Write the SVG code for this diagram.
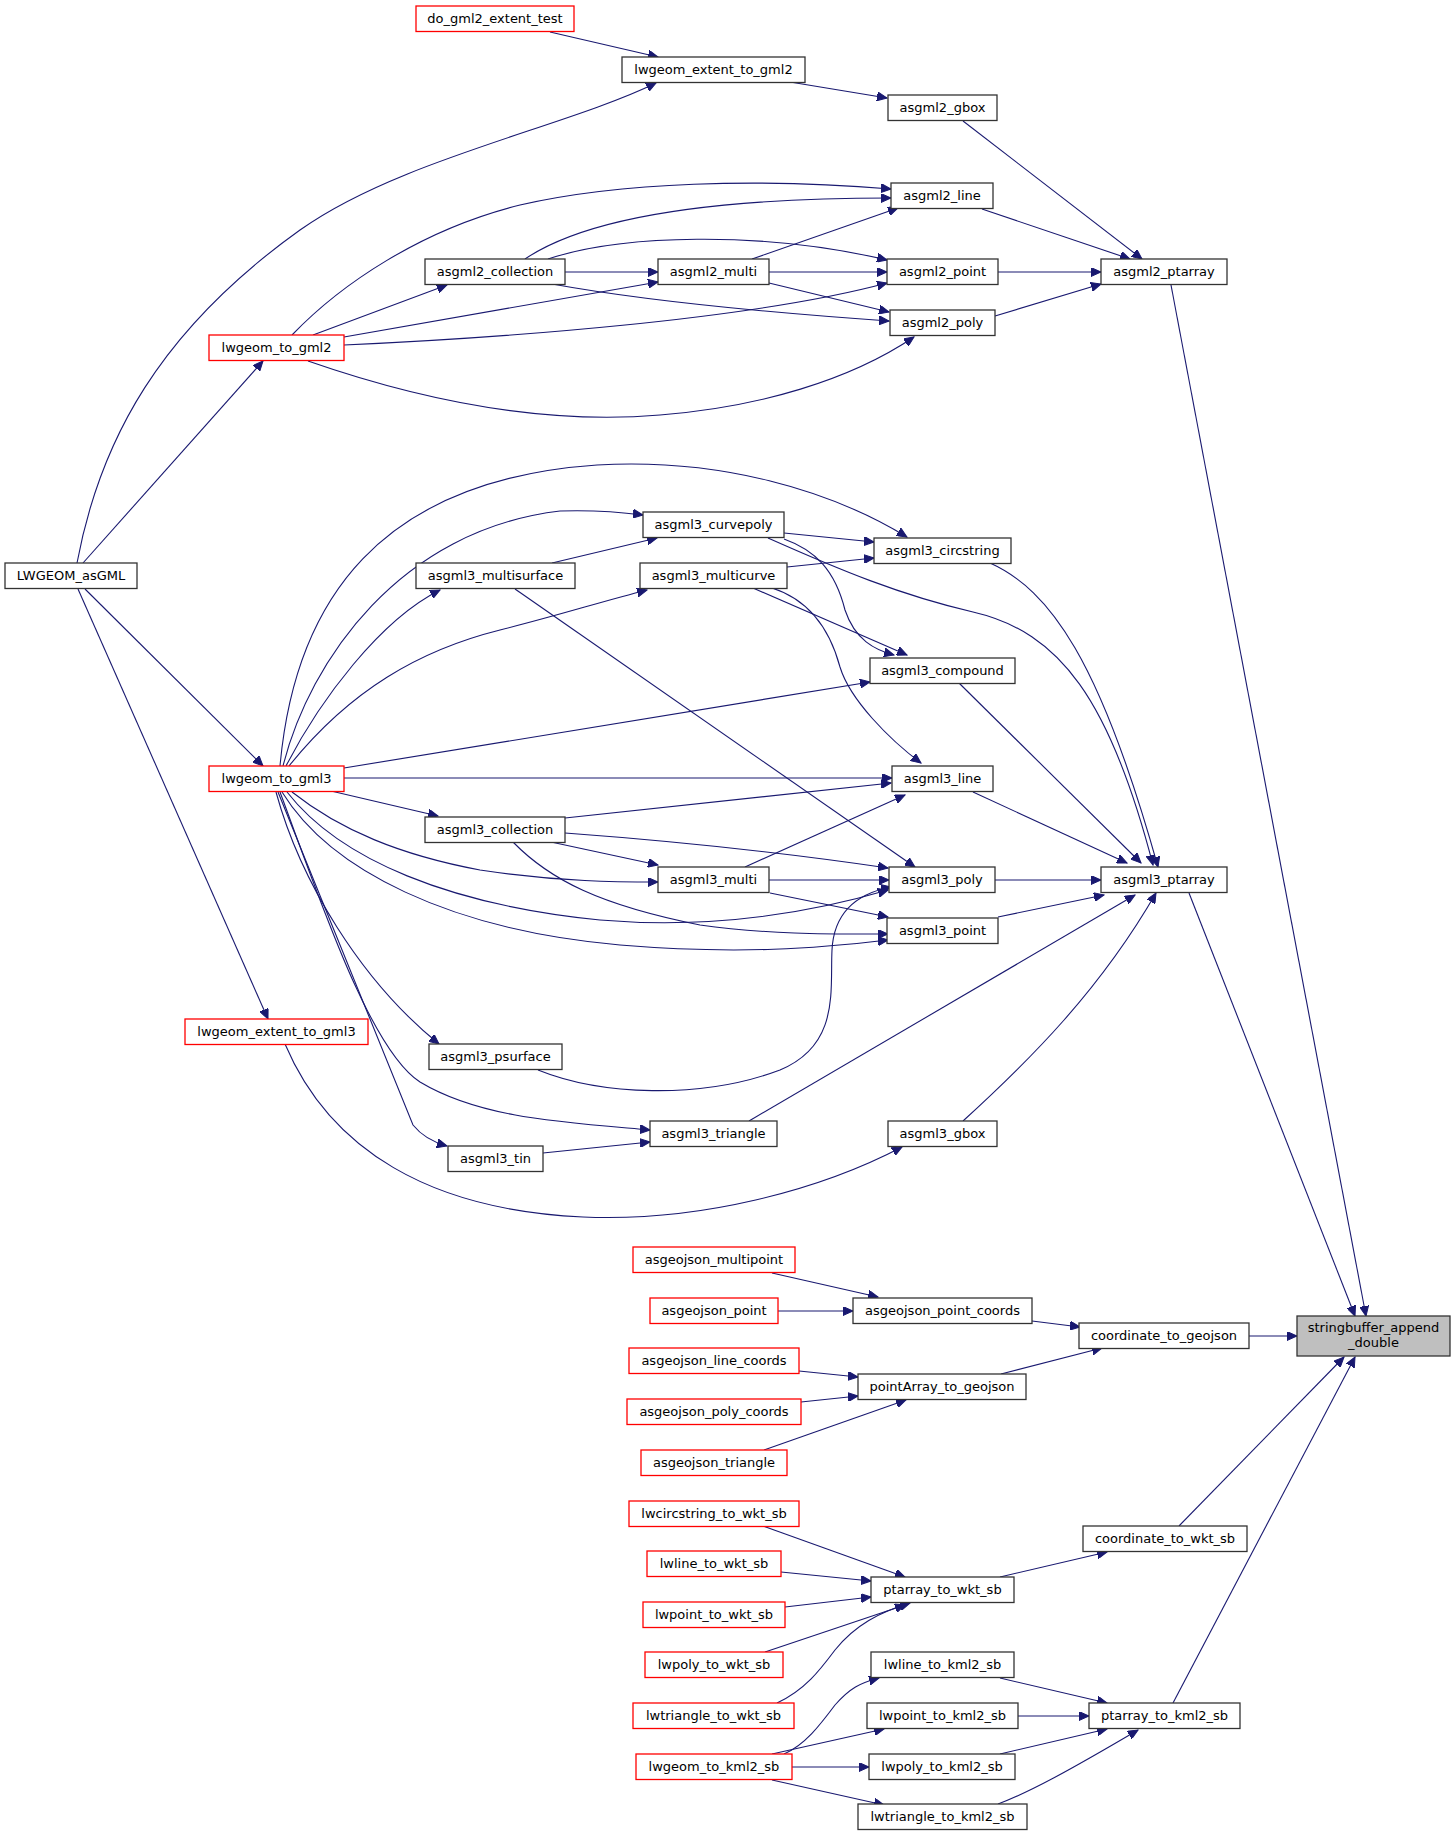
<svg xmlns="http://www.w3.org/2000/svg" width="1455" height="1836" viewBox="0 0 1455 1836">
<style>
.n rect{fill:#ffffff;stroke:#333333;stroke-width:1.3}
.r rect{fill:#ffffff;stroke:#ff0000;stroke-width:1.3}
.g rect{fill:#bfbfbf;stroke:#333333;stroke-width:1.3}
text{font-family:"DejaVu Sans","Liberation Sans",sans-serif;font-size:13px;fill:#000000;text-anchor:middle}
#edges path{fill:none;stroke:#191970;stroke-width:1.1;marker-end:url(#a)}
</style>
<defs>
<marker id="a" markerWidth="11" markerHeight="9" refX="10" refY="4.5" orient="auto" markerUnits="userSpaceOnUse"><path d="M0,0 L10,4.5 L0,9 z" fill="#191970" stroke="#191970" stroke-width="1"/></marker>
</defs>
<rect x="0" y="0" width="1455" height="1836" fill="#ffffff"/>
<g id="edges">
<path d="M550,32 L658,57"/>
<path d="M77,563 C100,440 160,330 300,230 C398,160 566,127 656,83"/>
<path d="M83,563 L263,361"/>
<path d="M85,589 L263,766"/>
<path d="M78,589 L268,1019"/>
<path d="M292,335 C340,285 420,230 520,205 C620,182 760,178 891,189"/>
<path d="M525,259 C590,215 720,198 891,198"/>
<path d="M752,259 L898,208"/>
<path d="M548,259 C620,235 760,230 887,260"/>
<path d="M565,272 L658,272"/>
<path d="M769,272 L887,272"/>
<path d="M769,283 L889,312"/>
<path d="M552,284 C640,300 760,312 889,321"/>
<path d="M313,335 L447,285"/>
<path d="M344,337 L658,282"/>
<path d="M344,345 C500,338 750,320 887,283"/>
<path d="M308,361 C420,400 540,425 660,415 C760,407 850,380 914,337"/>
<path d="M790,82 L887,98"/>
<path d="M963,121 L1142,259"/>
<path d="M982,209 L1130,259"/>
<path d="M998,272 L1101,272"/>
<path d="M995,316 L1101,284"/>
<path d="M1171,285 L1366,1316"/>
<path d="M280,766 C295,600 380,480 597,465 C720,458 830,490 907,537"/>
<path d="M283,766 C310,660 400,530 560,511 C590,510 620,512 643,515"/>
<path d="M286,766 C320,700 380,620 440,590"/>
<path d="M289,766 C350,690 420,650 500,630 C560,615 600,602 647,590"/>
<path d="M344,768 L870,682"/>
<path d="M344,778 L892,778"/>
<path d="M552,563 L657,538"/>
<path d="M515,589 L915,867"/>
<path d="M331,791 L438,816"/>
<path d="M565,818 L891,783"/>
<path d="M565,833 C700,843 800,855 888,868"/>
<path d="M551,842 L658,865"/>
<path d="M513,842 C550,880 600,905 700,925 C770,935 840,934 888,934"/>
<path d="M292,792 C340,830 400,855 480,870 C560,882 620,882 658,882"/>
<path d="M745,867 L905,795"/>
<path d="M769,880 L889,880"/>
<path d="M770,893 L888,917"/>
<path d="M287,792 C340,860 450,905 600,920 C720,930 820,910 888,890"/>
<path d="M282,792 C330,870 450,930 620,945 C740,955 820,948 888,940"/>
<path d="M538,1070 C600,1095 700,1100 780,1070 C840,1045 830,990 832,950 C834,910 860,893 891,887"/>
<path d="M276,792 C300,880 360,980 439,1044"/>
<path d="M280,792 C320,900 370,1050 420,1082 C480,1118 560,1122 650,1130"/>
<path d="M278,792 L413,1125 Q425,1140 447,1146"/>
<path d="M543,1153 L650,1142"/>
<path d="M749,1121 L1135,895"/>
<path d="M963,1121 C1030,1060 1100,990 1156,893"/>
<path d="M285,1044 C330,1150 430,1210 583,1217 C700,1222 820,1190 902,1147"/>
<path d="M990,563 C1050,590 1100,660 1158,867"/>
<path d="M768,538 C840,570 900,595 973,612 C1060,632 1110,700 1153,865"/>
<path d="M959,683 L1141,863"/>
<path d="M973,792 L1127,863"/>
<path d="M995,880 L1101,880"/>
<path d="M998,917 L1104,895"/>
<path d="M784,533 L874,542"/>
<path d="M787,567 L874,558"/>
<path d="M784,539 C815,550 835,570 845,610 C855,640 875,650 894,655"/>
<path d="M753,588 L907,655"/>
<path d="M772,588 C810,600 830,630 840,667 C850,700 890,740 921,763"/>
<path d="M1189,893 L1355,1316"/>
<path d="M772,1273 L878,1297"/>
<path d="M778,1311 L853,1311"/>
<path d="M1032,1321 L1080,1327"/>
<path d="M1001,1374 L1102,1348"/>
<path d="M1249,1336 L1297,1336"/>
<path d="M799,1371 L858,1377"/>
<path d="M801,1402 L858,1396"/>
<path d="M764,1450 L906,1400"/>
<path d="M763,1526 L905,1577"/>
<path d="M781,1572 L871,1581"/>
<path d="M785,1607 L871,1597"/>
<path d="M765,1652 L905,1605"/>
<path d="M777,1703 C805,1690 820,1670 835,1650 C855,1625 880,1612 910,1603"/>
<path d="M1000,1577 L1107,1552"/>
<path d="M1179,1526 L1344,1357"/>
<path d="M784,1754 C805,1745 820,1725 835,1705 C850,1688 860,1683 879,1678"/>
<path d="M772,1754 L884,1729"/>
<path d="M792,1767 L869,1767"/>
<path d="M772,1780 L884,1805"/>
<path d="M1000,1678 L1107,1703"/>
<path d="M1018,1716 L1089,1716"/>
<path d="M1000,1754 L1107,1729"/>
<path d="M998,1804 C1030,1792 1070,1770 1138,1730"/>
<path d="M1173,1703 L1355,1357"/>
</g>
<g id="do_gml2_extent_test" class="r"><rect x="416" y="6" width="158" height="25.5"/><text x="495" y="23">do_gml2_extent_test</text></g>
<g id="lwgeom_extent_to_gml2" class="n"><rect x="622" y="57" width="183" height="25.5"/><text x="713.5" y="74">lwgeom_extent_to_gml2</text></g>
<g id="asgml2_gbox" class="n"><rect x="888" y="95" width="109" height="25.5"/><text x="942.5" y="112">asgml2_gbox</text></g>
<g id="asgml2_line" class="n"><rect x="891" y="183" width="102" height="25.5"/><text x="942" y="200">asgml2_line</text></g>
<g id="asgml2_collection" class="n"><rect x="425" y="259" width="140" height="25.5"/><text x="495" y="276">asgml2_collection</text></g>
<g id="asgml2_multi" class="n"><rect x="658" y="259" width="111" height="25.5"/><text x="713.5" y="276">asgml2_multi</text></g>
<g id="asgml2_point" class="n"><rect x="887" y="259" width="111" height="25.5"/><text x="942.5" y="276">asgml2_point</text></g>
<g id="asgml2_poly" class="n"><rect x="890" y="310" width="105" height="25.5"/><text x="942.5" y="327">asgml2_poly</text></g>
<g id="asgml2_ptarray" class="n"><rect x="1101" y="259" width="126" height="25.5"/><text x="1164" y="276">asgml2_ptarray</text></g>
<g id="lwgeom_to_gml2" class="r"><rect x="209" y="335" width="135" height="25.5"/><text x="276.5" y="352">lwgeom_to_gml2</text></g>
<g id="LWGEOM_asGML" class="n"><rect x="5" y="563" width="132" height="25.5"/><text x="71" y="580">LWGEOM_asGML</text></g>
<g id="asgml3_curvepoly" class="n"><rect x="643" y="512" width="141" height="25.5"/><text x="713.5" y="529">asgml3_curvepoly</text></g>
<g id="asgml3_circstring" class="n"><rect x="874" y="538" width="137" height="25.5"/><text x="942.5" y="555">asgml3_circstring</text></g>
<g id="asgml3_multisurface" class="n"><rect x="416" y="563" width="159" height="25.5"/><text x="495.5" y="580">asgml3_multisurface</text></g>
<g id="asgml3_multicurve" class="n"><rect x="640" y="563" width="147" height="25.5"/><text x="713.5" y="580">asgml3_multicurve</text></g>
<g id="asgml3_compound" class="n"><rect x="870" y="658" width="145" height="25.5"/><text x="942.5" y="675">asgml3_compound</text></g>
<g id="lwgeom_to_gml3" class="r"><rect x="209" y="766" width="135" height="25.5"/><text x="276.5" y="783">lwgeom_to_gml3</text></g>
<g id="asgml3_line" class="n"><rect x="892" y="766" width="101" height="25.5"/><text x="942.5" y="783">asgml3_line</text></g>
<g id="asgml3_collection" class="n"><rect x="425" y="817" width="140" height="25.5"/><text x="495" y="834">asgml3_collection</text></g>
<g id="asgml3_multi" class="n"><rect x="658" y="867" width="111" height="25.5"/><text x="713.5" y="884">asgml3_multi</text></g>
<g id="asgml3_poly" class="n"><rect x="889" y="867" width="106" height="25.5"/><text x="942" y="884">asgml3_poly</text></g>
<g id="asgml3_ptarray" class="n"><rect x="1101" y="867" width="126" height="25.5"/><text x="1164" y="884">asgml3_ptarray</text></g>
<g id="asgml3_point" class="n"><rect x="887" y="918" width="111" height="25.5"/><text x="942.5" y="935">asgml3_point</text></g>
<g id="lwgeom_extent_to_gml3" class="r"><rect x="185" y="1019" width="183" height="25.5"/><text x="276.5" y="1036">lwgeom_extent_to_gml3</text></g>
<g id="asgml3_psurface" class="n"><rect x="429" y="1044" width="133" height="25.5"/><text x="495.5" y="1061">asgml3_psurface</text></g>
<g id="asgml3_triangle" class="n"><rect x="650" y="1121" width="127" height="25.5"/><text x="713.5" y="1138">asgml3_triangle</text></g>
<g id="asgml3_gbox" class="n"><rect x="888" y="1121" width="109" height="25.5"/><text x="942.5" y="1138">asgml3_gbox</text></g>
<g id="asgml3_tin" class="n"><rect x="448" y="1146" width="95" height="25.5"/><text x="495.5" y="1163">asgml3_tin</text></g>
<g id="asgeojson_multipoint" class="r"><rect x="633" y="1247" width="162" height="25.5"/><text x="714" y="1264">asgeojson_multipoint</text></g>
<g id="asgeojson_point" class="r"><rect x="650" y="1298" width="128" height="25.5"/><text x="714" y="1315">asgeojson_point</text></g>
<g id="asgeojson_point_coords" class="n"><rect x="853" y="1298" width="179" height="25.5"/><text x="942.5" y="1315">asgeojson_point_coords</text></g>
<g id="coordinate_to_geojson" class="n"><rect x="1079" y="1323" width="170" height="25.5"/><text x="1164" y="1340">coordinate_to_geojson</text></g>
<g id="stringbuffer_append_double" class="g"><rect x="1297" y="1316" width="153" height="40"/><text x="1373.5" y="1332">stringbuffer_append</text><text x="1373.5" y="1347">_double</text></g>
<g id="asgeojson_line_coords" class="r"><rect x="629" y="1348" width="170" height="25.5"/><text x="714" y="1365">asgeojson_line_coords</text></g>
<g id="pointArray_to_geojson" class="n"><rect x="858" y="1374" width="168" height="25.5"/><text x="942" y="1391">pointArray_to_geojson</text></g>
<g id="asgeojson_poly_coords" class="r"><rect x="627" y="1399" width="174" height="25.5"/><text x="714" y="1416">asgeojson_poly_coords</text></g>
<g id="asgeojson_triangle" class="r"><rect x="641" y="1450" width="146" height="25.5"/><text x="714" y="1467">asgeojson_triangle</text></g>
<g id="lwcircstring_to_wkt_sb" class="r"><rect x="629" y="1501" width="170" height="25.5"/><text x="714" y="1518">lwcircstring_to_wkt_sb</text></g>
<g id="coordinate_to_wkt_sb" class="n"><rect x="1083" y="1526" width="164" height="25.5"/><text x="1165" y="1543">coordinate_to_wkt_sb</text></g>
<g id="lwline_to_wkt_sb" class="r"><rect x="647" y="1551" width="134" height="25.5"/><text x="714" y="1568">lwline_to_wkt_sb</text></g>
<g id="ptarray_to_wkt_sb" class="n"><rect x="871" y="1577" width="143" height="25.5"/><text x="942.5" y="1594">ptarray_to_wkt_sb</text></g>
<g id="lwpoint_to_wkt_sb" class="r"><rect x="643" y="1602" width="142" height="25.5"/><text x="714" y="1619">lwpoint_to_wkt_sb</text></g>
<g id="lwpoly_to_wkt_sb" class="r"><rect x="645" y="1652" width="138" height="25.5"/><text x="714" y="1669">lwpoly_to_wkt_sb</text></g>
<g id="lwline_to_kml2_sb" class="n"><rect x="871" y="1652" width="143" height="25.5"/><text x="942.5" y="1669">lwline_to_kml2_sb</text></g>
<g id="lwtriangle_to_wkt_sb" class="r"><rect x="633" y="1703" width="161" height="25.5"/><text x="713.5" y="1720">lwtriangle_to_wkt_sb</text></g>
<g id="lwpoint_to_kml2_sb" class="n"><rect x="867" y="1703" width="151" height="25.5"/><text x="942.5" y="1720">lwpoint_to_kml2_sb</text></g>
<g id="ptarray_to_kml2_sb" class="n"><rect x="1089" y="1703" width="151" height="25.5"/><text x="1164.5" y="1720">ptarray_to_kml2_sb</text></g>
<g id="lwgeom_to_kml2_sb" class="r"><rect x="636" y="1754" width="156" height="25.5"/><text x="714" y="1771">lwgeom_to_kml2_sb</text></g>
<g id="lwpoly_to_kml2_sb" class="n"><rect x="869" y="1754" width="146" height="25.5"/><text x="942" y="1771">lwpoly_to_kml2_sb</text></g>
<g id="lwtriangle_to_kml2_sb" class="n"><rect x="858" y="1804" width="169" height="25.5"/><text x="942.5" y="1821">lwtriangle_to_kml2_sb</text></g>
</svg>
